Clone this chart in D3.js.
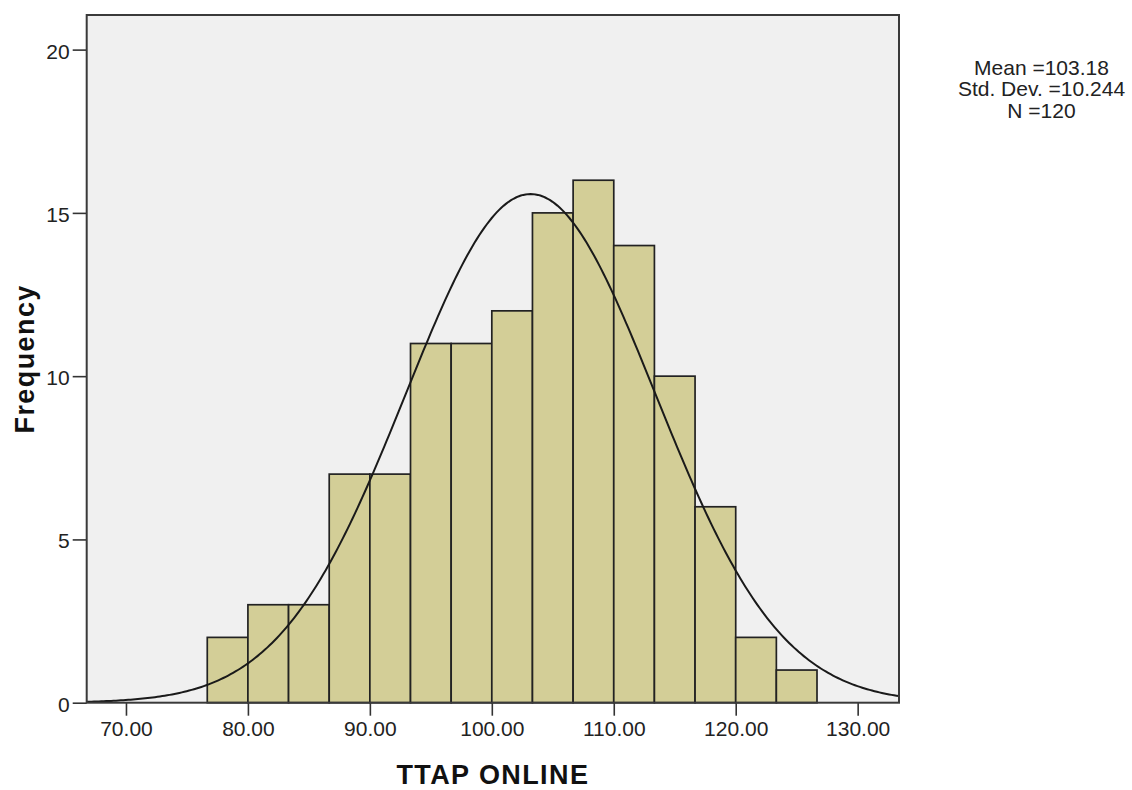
<!DOCTYPE html>
<html lang="en">
<head>
<meta charset="UTF-8">
<title>TTAP ONLINE histogram</title>
<script src="https://d3js.org/d3.v7.min.js"></script>
<style>
body { margin: 0; background: #fff; }
svg text { font-family: "Liberation Sans", Arial, sans-serif; fill: #222; }
.tick line { stroke: #333; stroke-width: 1.6px; }
.tick text { font-size: 21px; }
.titulo { font-size: 27px; font-weight: bold; letter-spacing: 1.4px; fill: #111; }
.stats { font-size: 21px; }
</style>
</head>
<body>
<div id="grafico"></div>
<script>
// datos
var binStarts = [76.667, 80, 83.333, 86.667, 90, 93.333, 96.667, 100, 103.333, 106.667, 110, 113.333, 116.667, 120, 123.333];
var binWidth = 3.3333;
var counts = [2, 3, 3, 7, 7, 11, 11, 12, 15, 16, 14, 10, 6, 2, 1];
var xTicks = [70, 80, 90, 100, 110, 120, 130];
var yTicks = [0, 5, 10, 15, 20];
var media = 103.18, desv = 10.244, n = 120;
var statLines = ["Mean =103.18", "Std. Dev. =10.244", "N =120"];

var ancho = 1132, altura = 790;
var margen = { top: 15, right: 233, bottom: 87.3, left: 86.7 };
var w = ancho - margen.left - margen.right;
var h = altura - margen.top - margen.bottom;

var x = d3.scaleLinear().domain([66.78, 133.39]).range([0, w]);
var y = d3.scaleLinear().domain([0, 21.06]).range([h, 0]);

var svg = d3.select("#grafico").append("svg")
  .attr("width", ancho).attr("height", altura);

var g = svg.append("g")
  .attr("transform", "translate(" + margen.left + "," + margen.top + ")");

g.append("rect")
  .attr("width", w).attr("height", h)
  .attr("fill", "#f0f0f0");

// barras
g.selectAll(".barra").data(binStarts).enter().append("rect")
  .attr("class", "barra")
  .attr("x", function(d) { return x(d); })
  .attr("width", function(d) { return x(d + binWidth) - x(d); })
  .attr("y", function(d, i) { return y(counts[i]); })
  .attr("height", function(d, i) { return h - y(counts[i]); })
  .attr("fill", "#d3ce97")
  .attr("stroke", "#222")
  .attr("stroke-width", 1.7);

// curva normal con media, desv y n
var xs = d3.range(x.domain()[0], x.domain()[1] + 0.01, 0.2);
var curva = d3.line()
  .x(function(d) { return x(d); })
  .y(function(d) {
    var z = (d - media) / desv;
    return y(n * binWidth * Math.exp(-0.5 * z * z) / (desv * Math.sqrt(2 * Math.PI)));
  });
g.append("path").datum(xs)
  .attr("d", curva)
  .attr("fill", "none")
  .attr("stroke", "#1a1a1a")
  .attr("stroke-width", 2);

// ejes
var ejeX = g.append("g")
  .attr("transform", "translate(0," + h + ")")
  .call(d3.axisBottom(x).tickValues(xTicks).tickFormat(d3.format(".2f")).tickSize(13).tickPadding(5));
var ejeY = g.append("g")
  .call(d3.axisLeft(y).tickValues(yTicks).tickSize(14).tickPadding(3));
ejeX.select(".domain").remove();
ejeY.select(".domain").remove();
ejeX.selectAll("text").attr("fill", "#222");
ejeY.selectAll("text").attr("fill", "#222").attr("dy", "0.4em");

// borde
g.append("rect")
  .attr("width", w).attr("height", h)
  .attr("fill", "none")
  .attr("stroke", "#3a3a3a")
  .attr("stroke-width", 2);

svg.append("text").attr("class", "titulo")
  .attr("x", margen.left + w / 2).attr("y", 784)
  .attr("text-anchor", "middle")
  .text("TTAP ONLINE");

svg.append("text").attr("class", "titulo")
  .attr("transform", "translate(34," + (margen.top + h / 2) + ") rotate(-90)")
  .attr("text-anchor", "middle")
  .text("Frequency");

svg.selectAll(".stats").data(statLines).enter().append("text")
  .attr("class", "stats")
  .attr("x", 1041.5)
  .attr("y", function(d, i) { return 74.5 + i * 21.5; })
  .attr("text-anchor", "middle")
  .text(function(d) { return d; });
</script>
</body>
</html>
